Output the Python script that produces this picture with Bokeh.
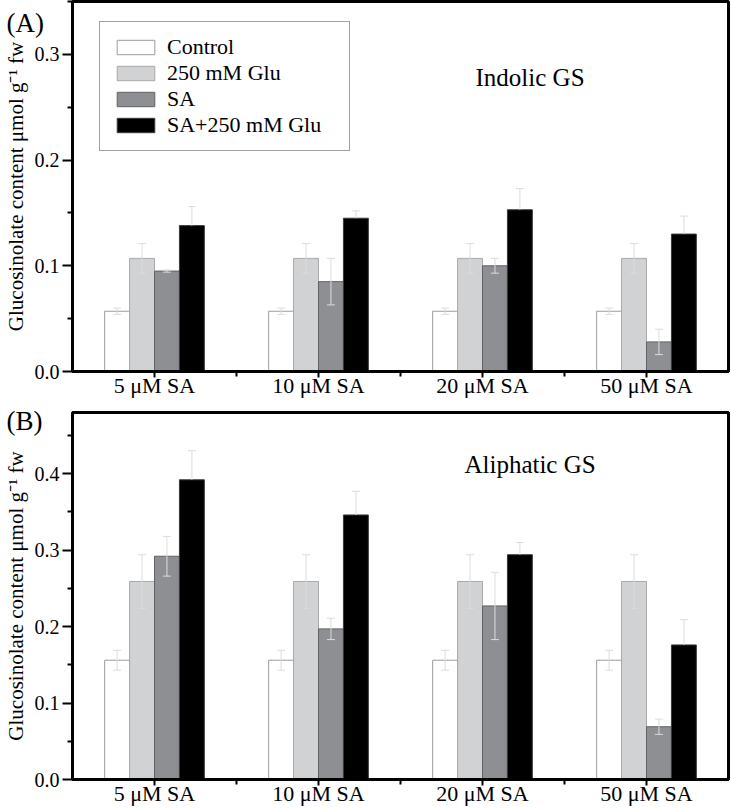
from bokeh.plotting import figure
from bokeh.models import (ColumnDataSource, Whisker, TeeHead, FixedTicker, Legend,
                          LegendItem, Label, Range1d, PrintfTickFormatter)
from bokeh.layouts import column
from bokeh.embed import file_html
from bokeh.resources import INLINE

# ---------------- data ----------------
categories = ["5 μM SA", "10 μM SA", "20 μM SA", "50 μM SA"]
series = ["Control", "250 mM Glu", "SA", "SA+250 mM Glu"]
panel_tags = ["(A)", "(B)"]
panel_titles = ["Indolic GS", "Aliphatic GS"]

indolic_control = [0.057, 0.057, 0.057, 0.057]
indolic_glu = [0.107, 0.107, 0.107, 0.107]
indolic_sa = [0.095, 0.085, 0.100, 0.028]
indolic_sa_glu = [0.138, 0.145, 0.153, 0.130]
indolic_control_err = [0.003, 0.003, 0.003, 0.003]
indolic_glu_err = [0.014, 0.014, 0.014, 0.014]
indolic_sa_err = [0.001, 0.022, 0.007, 0.012]
indolic_sa_glu_err = [0.018, 0.007, 0.020, 0.017]

aliphatic_control = [0.156, 0.156, 0.156, 0.156]
aliphatic_glu = [0.259, 0.259, 0.259, 0.259]
aliphatic_sa = [0.292, 0.197, 0.227, 0.069]
aliphatic_sa_glu = [0.392, 0.346, 0.294, 0.176]
aliphatic_control_err = [0.013, 0.013, 0.013, 0.013]
aliphatic_glu_err = [0.035, 0.035, 0.035, 0.035]
aliphatic_sa_err = [0.026, 0.014, 0.044, 0.010]
aliphatic_sa_glu_err = [0.038, 0.031, 0.016, 0.033]

indolic_yticks = [0.0, 0.1, 0.2, 0.3]
indolic_yminor = [0.05, 0.15, 0.25, 0.35]
aliphatic_yticks = [0.0, 0.1, 0.2, 0.3, 0.4]
aliphatic_yminor = [0.05, 0.15, 0.25, 0.35, 0.45]

# ---------------- style ----------------
FONT = "Liberation Serif"
fills = ["#ffffff", "#d1d2d4", "#8e8f93", "#000000"]
edges = ["#9c9c9c", "#a9a9a9", "#616265", "#3c3c3c"]
ERR = "#dcdcdc"
BAR_W = 0.152
WIDTH = 731


def make_panel(vals, errs, ymax, yticks, yminor, height, top,
               title, title_xy, tag, tag_standoff, with_legend):
    p = figure(width=WIDTH, height=height, output_backend="svg",
               toolbar_location=None, x_range=Range1d(0, len(categories)),
               y_range=Range1d(0, ymax),
               min_border_left=68, min_border_right=3,
               min_border_top=top, min_border_bottom=26)
    p.xgrid.visible = False
    p.ygrid.visible = False
    p.outline_line_color = "black"
    p.outline_line_width = 3
    p.outline_line_alpha = 1
    p.background_fill_color = "white"
    p.border_fill_color = "white"

    renderers = []
    n = len(series)
    for k in range(n):
        xs = [i + 0.5 + (k - (n - 1) / 2) * BAR_W for i in range(len(categories))]
        src = ColumnDataSource(dict(x=xs, top=vals[k]))
        r = p.vbar(x="x", top="top", width=BAR_W, source=src,
                   fill_color=fills[k], line_color=edges[k], line_width=1)
        renderers.append(r)
        up = [v + e for v, e in zip(vals[k], errs[k])]
        if k == n - 1:
            lo = list(vals[k])
            lower_head = None
        else:
            lo = [v - e for v, e in zip(vals[k], errs[k])]
            lower_head = TeeHead(size=8, line_color=ERR, line_width=1)
        wsrc = ColumnDataSource(dict(base=xs, upper=up, lower=lo))
        w = Whisker(source=wsrc, base="base", upper="upper", lower="lower",
                    line_color=ERR, line_width=1, level="overlay",
                    upper_head=TeeHead(size=8, line_color=ERR, line_width=1),
                    lower_head=lower_head)
        p.add_layout(w)

    # x axis
    centers = [i + 0.5 for i in range(len(categories))]
    p.xaxis.ticker = FixedTicker(ticks=centers,
                                 minor_ticks=list(range(1, len(categories))))
    p.xaxis.major_label_overrides = {c: lab for c, lab in zip(centers, categories)}
    p.xaxis.major_label_text_font = FONT
    p.xaxis.major_label_text_font_size = "22px"
    p.xaxis.major_label_text_color = "black"
    p.xaxis.major_label_standoff = -5
    p.xaxis.major_tick_out = 6
    p.xaxis.major_tick_in = 0
    p.xaxis.minor_tick_out = 5
    p.xaxis.minor_tick_in = 0

    # y axis
    p.yaxis.ticker = FixedTicker(ticks=yticks, minor_ticks=yminor)
    p.yaxis.formatter = PrintfTickFormatter(format="%.1f")
    p.yaxis.major_label_text_font = FONT
    p.yaxis.major_label_text_font_size = "20px"
    p.yaxis.major_label_text_color = "black"
    p.yaxis.major_label_standoff = 3
    p.yaxis.major_tick_out = 10
    p.yaxis.major_tick_in = 0
    p.yaxis.minor_tick_out = 5
    p.yaxis.minor_tick_in = 0
    p.yaxis.axis_label = "Glucosinolate content μmol g\u207B\u00B9 fw"
    p.yaxis.axis_label_text_font = FONT
    p.yaxis.axis_label_text_font_style = "normal"
    p.yaxis.axis_label_text_font_size = "21px"
    p.yaxis.axis_label_text_color = "black"
    p.yaxis.axis_label_standoff = 4

    for ax in (p.xaxis, p.yaxis):
        ax.axis_line_width = 3
        ax.axis_line_color = "black"
        ax.major_tick_line_width = 2
        ax.minor_tick_line_width = 2
        ax.major_tick_line_color = "black"
        ax.minor_tick_line_color = "black"

    p.add_layout(Label(x=title_xy[0], y=title_xy[1], text=title,
                       text_font=FONT, text_font_size="25px",
                       text_align="center", text_baseline="middle",
                       text_color="black"))

    # panel tag: the plot title, pulled down beside the frame's top-left corner
    p.title.text = tag
    p.title.align = "left"
    p.title.offset = -66
    p.title.standoff = tag_standoff
    p.title.text_font = FONT
    p.title.text_font_size = "27px"
    p.title.text_font_style = "normal"
    p.title.text_color = "black"

    if with_legend:
        legend = Legend(items=[LegendItem(label=s, renderers=[r])
                               for s, r in zip(series, renderers)],
                        location=(27, 370 - 19 - 131),
                        glyph_width=47, glyph_height=18,
                        label_text_font=FONT, label_text_font_size="22px",
                        label_text_color="black",
                        label_standoff=8, padding=12, spacing=0,
                        label_height=24, label_width=170,
                        border_line_color="#444444", border_line_width=1,
                        background_fill_color="white", background_fill_alpha=1,
                        margin=0)
        p.add_layout(legend)
    return p


p1 = make_panel([indolic_control, indolic_glu, indolic_sa, indolic_sa_glu],
                [indolic_control_err, indolic_glu_err, indolic_sa_err, indolic_sa_glu_err],
                0.35, indolic_yticks, indolic_yminor, 400, 1,
                panel_titles[0], (2.79, 0.278), panel_tags[0], -73, True)
p2 = make_panel([aliphatic_control, aliphatic_glu, aliphatic_sa, aliphatic_sa_glu],
                [aliphatic_control_err, aliphatic_glu_err, aliphatic_sa_err, aliphatic_sa_glu_err],
                0.48, aliphatic_yticks, aliphatic_yminor, 408, 12,
                panel_titles[1], (2.79, 0.412), panel_tags[1], -46, False)

layout = column(p1, p2, spacing=0)
open("out.html", "w").write(file_html(layout, INLINE))
